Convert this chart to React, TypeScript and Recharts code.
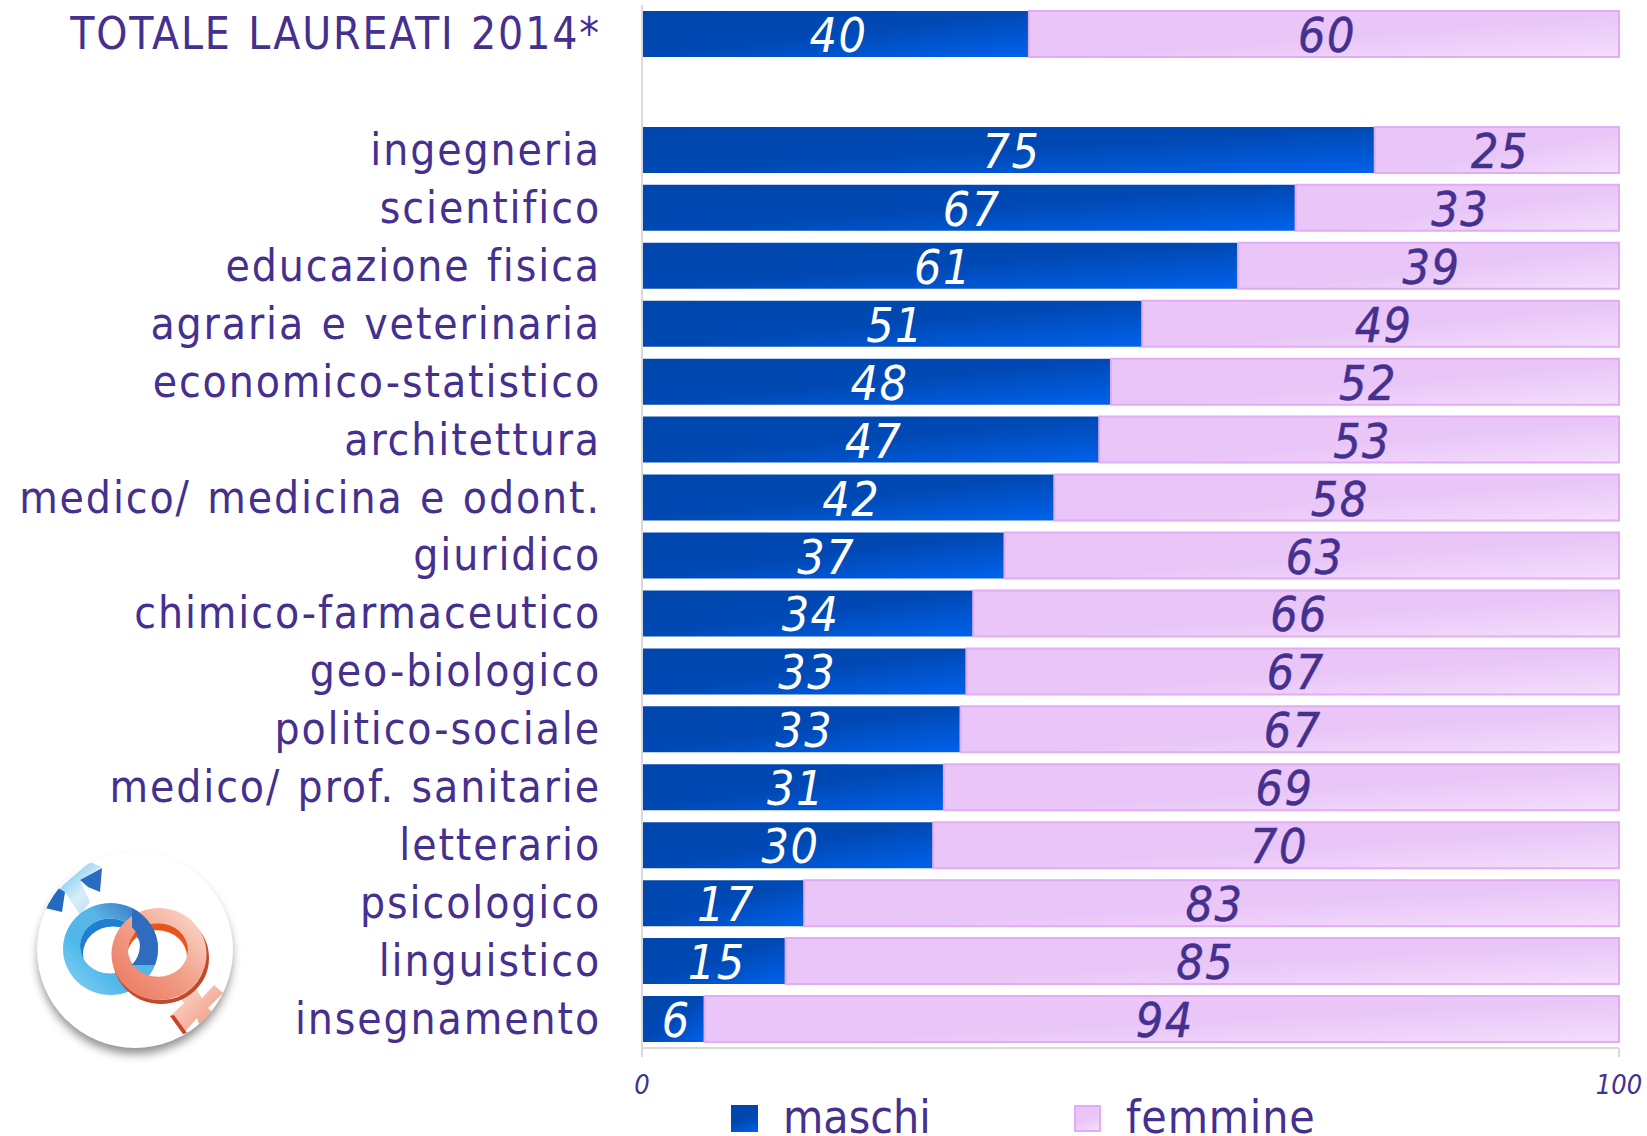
import { BarChart, Bar, XAxis, YAxis, LabelList, Legend } from "recharts";

const categories = [
  "TOTALE LAUREATI 2014*",
  " ",
  "ingegneria",
  "scientifico",
  "educazione fisica",
  "agraria e veterinaria",
  "economico-statistico",
  "architettura",
  "medico/ medicina e odont.",
  "giuridico",
  "chimico-farmaceutico",
  "geo-biologico",
  "politico-sociale",
  "medico/ prof. sanitarie",
  "letterario",
  "psicologico",
  "linguistico",
  "insegnamento",
];

const maschi = [39.6, null, 75, 66.9, 61, 51.2, 48, 46.8, 42.2, 37.1, 33.9, 33.2, 32.6, 30.9, 29.8, 16.6, 14.7, 6.4];
const femmine = [60.4, null, 25, 33.1, 39, 48.8, 52, 53.2, 57.8, 62.9, 66.1, 66.8, 67.4, 69.1, 70.2, 83.4, 85.3, 93.6];
const xTicks = [0, 100];

const data = categories.map((name, i) => ({ name, maschi: maschi[i], femmine: femmine[i] }));

const PURPLE = "#45308f";
const FONT = "'DejaVu Sans', sans-serif";

function formatLabel(v: any) {
  return v == null ? "" : Math.round(v);
}

function CategoryTick({ x, y, payload }: any) {
  return (
    <text
      x={x}
      y={y}
      dy={15}
      textAnchor="end"
      fill={PURPLE}
      fontFamily={FONT}
      fontSize={44}
      style={{ fontStretch: "condensed", letterSpacing: 1.9, wordSpacing: 2 }}
    >
      {payload.value}
    </text>
  );
}

function ValueTick({ x, y, payload }: any) {
  return (
    <text
      x={x}
      y={y}
      dy={35}
      textAnchor="middle"
      fill={PURPLE}
      fontFamily={FONT}
      fontStyle="italic"
      fontSize={27}
      style={{ fontStretch: "condensed" }}
    >
      {payload.value}
    </text>
  );
}

function LegendContent() {
  const textStyle: React.CSSProperties = {
    position: "absolute",
    top: -10,
    color: PURPLE,
    fontFamily: FONT,
    fontSize: 46,
    lineHeight: "54px",
    fontStretch: "condensed",
    whiteSpace: "nowrap",
  };
  const boxStyle: React.CSSProperties = { position: "absolute", top: 5, width: 27, height: 27, boxSizing: "border-box" };
  return (
    <div style={{ position: "relative", width: 1647, height: 36 }}>
      <div style={{ ...boxStyle, left: 731, background: "linear-gradient(160deg,#0046ac 50%,#0062ec)" }} />
      <div style={{ ...textStyle, left: 783 }}>maschi</div>
      <div
        style={{
          ...boxStyle,
          left: 1074,
          border: "2px solid #e3aaf6",
          background: "linear-gradient(160deg,#e9c5f8 50%,#f4defc)",
        }}
      />
      <div style={{ ...textStyle, left: 1126, letterSpacing: 0.8 }}>femmine</div>
    </div>
  );
}

function ellipsePath(cx: number, cy: number, rx: number, ry: number) {
  return `M${cx - rx},${cy}a${rx},${ry} 0 1,0 ${rx * 2},0a${rx},${ry} 0 1,0 ${-rx * 2},0Z`;
}

const maleRing = ellipsePath(110.5, 949, 47.5, 46) + ellipsePath(110, 946, 30, 27.5);
const femaleRing = ellipsePath(159, 954, 47.5, 46) + ellipsePath(158, 950, 30, 26.7);
const bigRect = "M0,830H260V1080H0Z";

// the round gender badge at the bottom left
function Badge() {
  return (
    <svg width={260} height={250} style={{ position: "absolute", left: 0, top: 830 }} viewBox="0 830 260 250">
      <defs>
        <filter id="badgeShadow" x="-30%" y="-30%" width="160%" height="160%">
          <feGaussianBlur stdDeviation="5" />
        </filter>
        <clipPath id="badgeClip">
          <circle cx={135} cy={950} r={98} />
        </clipPath>
        <clipPath id="overlapClip">
          <rect x={132} y={905} width={34} height={60} />
        </clipPath>
        <clipPath id="maleHole">
          <ellipse cx={110} cy={946} rx={30} ry={27.5} />
        </clipPath>
        <clipPath id="femaleHole">
          <ellipse cx={158} cy={950} rx={30} ry={26.7} />
        </clipPath>
        <linearGradient id="maleGrad" x1="0" y1="1" x2="1" y2="0">
          <stop offset="0%" stopColor="#8fd4f4" />
          <stop offset="35%" stopColor="#4fb8ea" />
          <stop offset="60%" stopColor="#58b6e6" />
          <stop offset="100%" stopColor="#2a5fb4" />
        </linearGradient>
        <linearGradient id="maleArrow" x1="0" y1="0" x2="1" y2="1">
          <stop offset="0%" stopColor="#4fb4ee" />
          <stop offset="60%" stopColor="#d8eefa" />
          <stop offset="100%" stopColor="#a8dcf4" />
        </linearGradient>
        <linearGradient id="femaleGrad" x1="0" y1="1" x2="1" y2="0">
          <stop offset="0%" stopColor="#e8745a" />
          <stop offset="50%" stopColor="#f29e86" />
          <stop offset="100%" stopColor="#fbe3da" />
        </linearGradient>
        <linearGradient id="femaleCross" x1="0" y1="0" x2="1" y2="1">
          <stop offset="0%" stopColor="#fde8e0" />
          <stop offset="100%" stopColor="#f08a70" />
        </linearGradient>
      </defs>
      <circle cx={135} cy={957} r={97} fill="#555" opacity={0.65} filter="url(#badgeShadow)" />
      <circle cx={135} cy={950} r={98} fill="#fff" />
      <g clipPath="url(#badgeClip)">
        <polygon points="50,902 63,885 90,862 102,867 80,880 90,902 80,915 65,892" fill="url(#maleArrow)" />
        <polygon points="45,908 62,912 65,892 58,888" fill="#2468c0" />
        <polygon points="80,880 102,868 100,892 88,887" fill="#2a6cc4" />
        <path d={maleRing} fillRule="evenodd" fill="url(#maleGrad)" />
        <g clipPath="url(#maleHole)">
          <path d={bigRect + ellipsePath(113, 954, 30, 27.5)} fillRule="evenodd" fill="#1f7fd0" />
        </g>
        <polygon points="175,992 190,980 202,998 214,985 223,993 208,1008 220,1020 200,1027 197,1018 183,1034 170,1016 184,1003" fill="url(#femaleCross)" />
        <polygon points="170,1016 183,1034 187,1033 174,1015" fill="#c8452a" />
        <path d={ellipsePath(161, 958, 46, 44)} fill="none" stroke="#c24a2c" strokeWidth={4} />
        <path d={femaleRing} fillRule="evenodd" fill="url(#femaleGrad)" />
        <g clipPath="url(#femaleHole)">
          <path d={bigRect + ellipsePath(157, 957, 30, 26.7)} fillRule="evenodd" fill="#e8541e" />
        </g>
        <g clipPath="url(#overlapClip)">
          <path d={maleRing} fillRule="evenodd" fill="#2f6cc0" />
        </g>
      </g>
    </svg>
  );
}

export default function App() {
  return (
    <div style={{ position: "absolute", left: 0, top: 0, width: 1647, height: 1136, background: "#fff", overflow: "hidden" }}>
      <BarChart
        width={1647}
        height={1136}
        data={data}
        layout="vertical"
        barCategoryGap={6}
        margin={{ top: 5, right: 28, left: 0, bottom: 0 }}
      >
        <defs>
          <linearGradient id="blueFill" x1="0" y1="0" x2="1" y2="1">
            <stop offset="0%" stopColor="#0046ac" />
            <stop offset="50%" stopColor="#0049b4" />
            <stop offset="100%" stopColor="#0062ec" />
          </linearGradient>
          <linearGradient id="pinkFill" x1="0" y1="0" x2="1" y2="1">
            <stop offset="0%" stopColor="#e9c5f8" />
            <stop offset="55%" stopColor="#e9c6f8" />
            <stop offset="100%" stopColor="#f4defc" />
          </linearGradient>
        </defs>
        <XAxis
          type="number"
          domain={[0, 100]}
          ticks={xTicks}
          height={52}
          tickSize={9}
          tick={<ValueTick />}
          stroke="#d9d9d9"
          strokeWidth={2}
          interval={0}
        />
        <YAxis
          type="category"
          dataKey="name"
          width={642}
          interval={0}
          tickLine={false}
          tickMargin={35}
          tick={<CategoryTick />}
          stroke="#d9d9d9"
          strokeWidth={2}
        />
        <Legend
          verticalAlign="bottom"
          height={36}
          content={<LegendContent />}
          wrapperStyle={{ left: 0, bottom: 0, width: 1647, height: 36 }}
        />
        <Bar dataKey="maschi" stackId="a" fill="url(#blueFill)" isAnimationActive={false}>
          <LabelList
            dataKey="maschi"
            position="center"
            formatter={formatLabel}
            fill="#fff"
            fontSize={48}
            fontStyle="italic"
            fontFamily={FONT}
            dx={3}
            dy={1}
            style={{ fontStretch: "condensed", letterSpacing: 1.5 }}
          />
        </Bar>
        <Bar dataKey="femmine" stackId="a" fill="url(#pinkFill)" stroke="#e3aaf6" strokeWidth={2} isAnimationActive={false}>
          <LabelList
            dataKey="femmine"
            position="center"
            formatter={formatLabel}
            fill={PURPLE}
            fontSize={48}
            fontStyle="italic"
            fontFamily={FONT}
            dx={3}
            dy={1}
            style={{ fontStretch: "condensed", letterSpacing: 1.5, stroke: PURPLE, strokeWidth: 0.5 }}
          />
        </Bar>
      </BarChart>
      <Badge />
    </div>
  );
}
